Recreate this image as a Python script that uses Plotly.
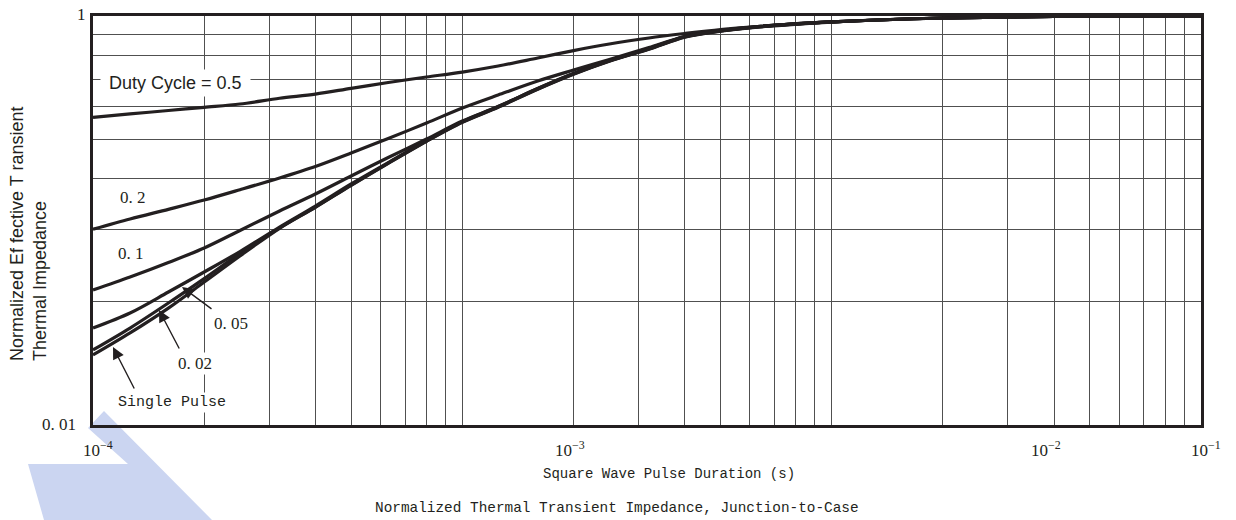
import plotly.graph_objects as go

# ---------------- data ----------------
pulse_duration = [1e-4, 1.26e-4, 1.6e-4, 2e-4, 2.5e-4, 3.2e-4, 4e-4, 5e-4, 6.3e-4, 8e-4,
                  1e-3, 1.25e-3, 1.6e-3, 2e-3, 2.5e-3, 3.2e-3, 4e-3, 5e-3, 6.3e-3, 1e-2,
                  2e-2, 4e-2, 1e-1]

z_d050 = [0.3196, 0.332, 0.345, 0.3577, 0.3712, 0.396, 0.415, 0.443, 0.4729, 0.503,
          0.532, 0.5693, 0.6232, 0.677, 0.7295, 0.7806, 0.8212, 0.859, 0.8885, 0.935,
          0.978, 0.9944, 1.0]
z_d020 = [0.0906, 0.1017, 0.1134, 0.1259, 0.1414, 0.1614, 0.1837, 0.2138, 0.2518, 0.2997,
          0.355, 0.4109, 0.481, 0.544, 0.6128, 0.7015, 0.794, 0.8494, 0.8885, 0.935,
          0.978, 0.9944, 1.0]
z_d010 = [0.0457, 0.0529, 0.0623, 0.0734, 0.0894, 0.1113, 0.1348, 0.1651, 0.2032, 0.2503,
          0.3065, 0.361, 0.442, 0.523, 0.605, 0.692, 0.791, 0.846, 0.885, 0.935,
          0.978, 0.9944, 1.0]
z_d005 = [0.0298, 0.0353, 0.0447, 0.0560, 0.0705, 0.0929, 0.1177, 0.1509, 0.1920, 0.2459,
          0.3046, 0.3607, 0.4418, 0.5229, 0.6056, 0.6930, 0.7934, 0.8488, 0.8881, 0.935,
          0.978, 0.9944, 1.0]
z_d002 = [0.0233, 0.0298, 0.0395, 0.0520, 0.0690, 0.0919, 0.1164, 0.1491, 0.1910, 0.2447,
          0.3031, 0.3589, 0.4396, 0.5203, 0.6026, 0.6896, 0.7895, 0.8446, 0.8837, 0.935,
          0.978, 0.9944, 1.0]
z_single = [0.0220, 0.0282, 0.0373, 0.0500, 0.0671, 0.0916, 0.1160, 0.1487, 0.1904, 0.2440,
            0.3022, 0.3578, 0.4383, 0.5188, 0.6008, 0.6876, 0.7873, 0.8425, 0.8820, 0.934,
            0.978, 0.9944, 1.0]

series = [z_d050, z_d020, z_d010, z_d005, z_d002, z_single]
series_names = ["Duty Cycle = 0.5", "0.2", "0.1", "0.05", "0.02", "Single Pulse"]

y_grid_values = [0.04, 0.09, 0.16, 0.25, 0.36, 0.49, 0.64, 0.81]
x_tick_labels = ["10<sup>\u22124</sup>", "10<sup>\u22123</sup>", "10<sup>\u22122</sup>", "10<sup>\u22121</sup>"]
y_tick_labels = ["1", "0. 01"]
curve_labels = ["0. 2", "0. 1", "0. 05", "0. 02", "Single Pulse"]

x_title = "Square Wave Pulse Duration (s)"
y_title = "Normalized Ef fective T ransient<br>Thermal Impedance"
chart_title = "Normalized Thermal Transient Impedance, Junction-to-Case"

# ---------------- layout helpers ----------------
W, H = 1236, 520
L, R, T, B = 93, 1201, 16, 425
INK = "#231f20"
MONO = "Liberation Mono"
SERIF = "Liberation Serif"
SANS = "Liberation Sans, Arial, sans-serif"


def px(xp):
    return (xp - L) / (R - L)


def py(yp):
    return (B - yp) / (B - T)


fig = go.Figure()
for ys, nm in zip(series, series_names):
    fig.add_trace(go.Scatter(x=pulse_duration, y=ys, mode="lines", name=nm,
                             line=dict(color=INK, width=3.2, shape="spline", smoothing=0.9),
                             hoverinfo="x+y+name"))

ann = []
# x tick labels
for txt, xc in zip(x_tick_labels, [98, 570, 1046, 1206]):
    ann.append(dict(xref="paper", yref="paper", x=px(xc), y=py(449), text=txt,
                    showarrow=False, xanchor="center", yanchor="middle",
                    font=dict(family=SERIF, size=17, color=INK)))
# y tick labels
ann.append(dict(xref="paper", yref="paper", x=px(88), y=py(15), text=y_tick_labels[0],
                showarrow=False, xanchor="right", yanchor="middle",
                font=dict(family=SERIF, size=17, color=INK)))
ann.append(dict(xref="paper", yref="paper", x=px(78), y=py(424), text=y_tick_labels[1],
                showarrow=False, xanchor="right", yanchor="middle",
                font=dict(family=SERIF, size=17, color=INK)))
# axis titles and chart title
ann.append(dict(xref="paper", yref="paper", x=px(669), y=py(474), text=x_title,
                showarrow=False, xanchor="center", yanchor="middle",
                font=dict(family=MONO, size=14, color=INK)))
ann.append(dict(xref="paper", yref="paper", x=px(617), y=py(508), text=chart_title,
                showarrow=False, xanchor="center", yanchor="middle",
                font=dict(family=MONO, size=14.4, color=INK)))
ann.append(dict(xref="paper", yref="paper", x=px(28), y=py(234), text=y_title,
                showarrow=False, xanchor="center", yanchor="middle", textangle=-90,
                align="left", font=dict(family=SANS, size=18, color=INK)))
# Duty cycle label with white box
ann.append(dict(xref="paper", yref="paper", x=px(175), y=py(83), text="\u00a0" + series_names[0] + "\u00a0",
                showarrow=False, xanchor="center", yanchor="middle", bgcolor="white",
                borderpad=3, font=dict(family=SANS, size=18, color=INK)))
# curve labels
label_fonts = [SERIF, SERIF, SERIF, SERIF, MONO]
label_sizes = [17, 17, 17, 17, 15]
for txt, (xc, yc), fam, fs in zip(curve_labels,
                                  [(133, 197), (131, 253), (231, 323), (195, 363), (172, 402)],
                                  label_fonts, label_sizes):
    ann.append(dict(xref="paper", yref="paper", x=px(xc), y=py(yc), text=txt,
                    showarrow=False, xanchor="center", yanchor="middle", bgcolor="white",
                    borderpad=1, font=dict(family=fam, size=fs, color=INK)))
# arrows (head, tail)
for (hx, hy), (tx, ty) in [((182, 287), (213, 310)), ((159, 310), (180, 350)), ((113, 347), (135, 390))]:
    ann.append(dict(xref="paper", yref="paper", x=px(hx), y=py(hy), text="",
                    showarrow=True, ax=tx - hx, ay=ty - hy, arrowhead=2, arrowsize=1.7,
                    arrowwidth=1.4, arrowcolor=INK, standoff=0, startstandoff=0))

# watermark shape (light blue), behind the plot
wm = [(88, 428), (104, 411), (212, 520), (44, 520), (28, 464), (128, 464)]
path = "M " + " L ".join(f"{px(a)},{py(b)}" for a, b in wm) + " Z"
shapes = [dict(type="path", xref="paper", yref="paper", path=path,
               fillcolor="rgb(203,213,241)", line=dict(width=0), layer="below")]

fig.update_layout(
    width=W, height=H,
    margin=dict(l=L, r=W - R, t=T, b=H - B),
    paper_bgcolor="white", plot_bgcolor="rgba(0,0,0,0)",
    showlegend=False,
    annotations=ann, shapes=shapes,
    xaxis=dict(type="log", range=[-4, -1], dtick="D1", showticklabels=False,
               showgrid=True, gridcolor="#505050", gridwidth=1.2,
               showline=True, mirror=True, linewidth=3, linecolor=INK,
               ticks="", zeroline=False),
    yaxis=dict(type="log", range=[-2, 0], tickmode="array", tickvals=y_grid_values,
               showticklabels=False, showgrid=True, gridcolor="#505050", gridwidth=1.2,
               showline=True, mirror=True, linewidth=3, linecolor=INK,
               ticks="", zeroline=False),
)

fig.write_html("out.html", config={"displayModeBar": False},
               post_script="document.body.style.margin='0px';document.body.style.overflow='hidden';")
